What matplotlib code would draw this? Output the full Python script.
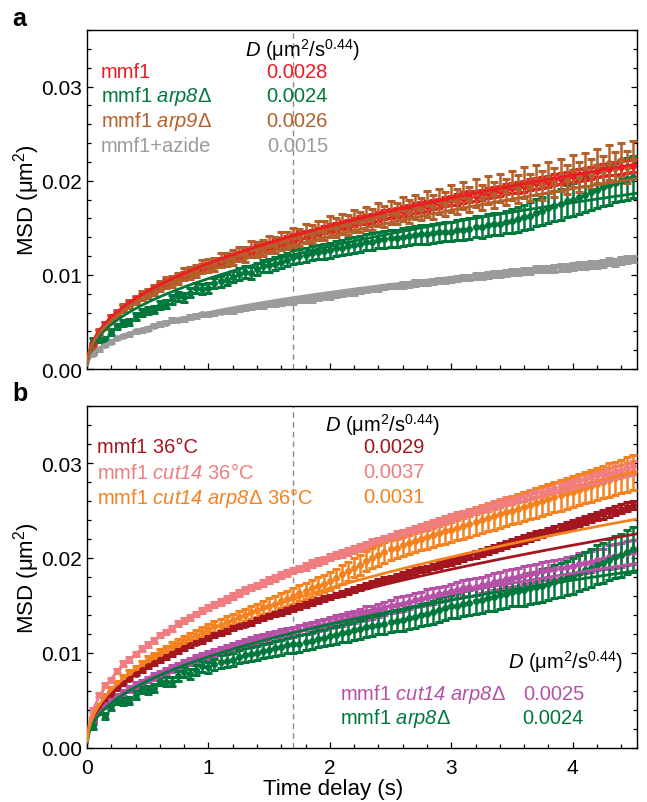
import numpy as np
import matplotlib.pyplot as plt
from matplotlib.ticker import MultipleLocator, FormatStrFormatter

plt.rcParams.update({
    'font.family': ['Liberation Sans', 'DejaVu Sans'],
    'mathtext.fontset': 'custom',
    'mathtext.rm': 'Liberation Sans',
    'mathtext.it': 'Liberation Sans:italic',
    'mathtext.sf': 'Liberation Sans:italic',
    'mathtext.bf': 'Liberation Sans:bold',
})

# ───────────── data (MSD in 1e-3 µm², one row = 0.5 s) ─────────────
lag = np.round(np.arange(1, 91) * 0.05, 2)      # time delay (s)
fit_alpha = 0.44
t_fit_max = 1.7                                  # dashed line

# panel a
msd_a_mmf1 = [
    2.6, 3.9, 4.8, 5.5, 6.0, 6.5, 7.0, 7.4, 7.7, 8.1,
    8.5, 8.8, 9.1, 9.4, 9.7, 10.0, 10.2, 10.5, 10.8, 11.0,
    11.2, 11.5, 11.7, 11.9, 12.1, 12.3, 12.6, 12.8, 13.0, 13.1,
    13.3, 13.5, 13.7, 13.9, 14.1, 14.3, 14.4, 14.6, 14.8, 15.0,
    15.1, 15.3, 15.4, 15.6, 15.8, 15.9, 16.0, 16.2, 16.4, 16.5,
    16.6, 16.8, 16.9, 17.1, 17.2, 17.3, 17.5, 17.6, 17.8, 17.9,
    18.0, 18.2, 18.3, 18.4, 18.5, 18.7, 18.8, 18.9, 19.1, 19.2,
    19.3, 19.4, 19.6, 19.7, 19.8, 19.9, 20.1, 20.2, 20.3, 20.5,
    20.6, 20.7, 20.8, 21.0, 21.1, 21.2, 21.3, 21.4, 21.5, 21.6]
err_a_mmf1 = [
    0.2, 0.2, 0.2, 0.2, 0.2, 0.25, 0.25, 0.25, 0.25, 0.25,
    0.3, 0.3, 0.3, 0.3, 0.3, 0.3, 0.3, 0.3, 0.3, 0.3,
    0.3, 0.3, 0.35, 0.35, 0.35, 0.35, 0.35, 0.35, 0.4, 0.4,
    0.4, 0.4, 0.4, 0.4, 0.4, 0.4, 0.4, 0.4, 0.4, 0.4,
    0.45, 0.45, 0.45, 0.45, 0.45, 0.45, 0.45, 0.45, 0.45, 0.45,
    0.5, 0.5, 0.5, 0.5, 0.5, 0.5, 0.5, 0.5, 0.5, 0.5,
    0.55, 0.55, 0.55, 0.55, 0.55, 0.55, 0.55, 0.55, 0.55, 0.55,
    0.6, 0.6, 0.6, 0.6, 0.6, 0.6, 0.6, 0.6, 0.6, 0.6,
    0.65, 0.65, 0.65, 0.65, 0.65, 0.65, 0.65, 0.65, 0.65, 0.65]

msd_a_arp8 = [
    3.0, 3.2, 3.1, 3.9, 4.5, 4.9, 5.0, 5.6, 6.0, 6.2,
    6.3, 6.8, 6.9, 7.4, 7.7, 7.6, 8.1, 8.6, 8.5, 8.6,
    9.1, 9.3, 9.5, 9.8, 10.1, 10.3, 10.2, 10.6, 10.9, 11.0,
    11.2, 11.4, 11.6, 11.9, 12.0, 12.1, 12.3, 12.4, 12.5, 12.6,
    12.8, 12.9, 13.1, 13.2, 13.3, 13.5, 13.5, 13.7, 13.8, 13.9,
    13.9, 14.0, 14.1, 14.2, 14.3, 14.3, 14.4, 14.5, 14.6, 14.6,
    14.8, 14.8, 14.9, 15.1, 15.1, 15.3, 15.4, 15.4, 15.6, 15.7,
    15.9, 16.1, 16.3, 16.6, 16.8, 17.1, 17.3, 17.5, 17.8, 18.0,
    18.3, 18.5, 18.8, 19.0, 19.3, 19.5, 19.8, 20.0, 20.2, 20.4]
err_a_arp8 = [
    0.3, 0.3, 0.3, 0.3, 0.3, 0.35, 0.35, 0.35, 0.35, 0.4,
    0.4, 0.4, 0.4, 0.45, 0.45, 0.45, 0.5, 0.5, 0.5, 0.5,
    0.55, 0.55, 0.55, 0.6, 0.6, 0.6, 0.6, 0.65, 0.65, 0.65,
    0.7, 0.7, 0.7, 0.7, 0.75, 0.75, 0.75, 0.75, 0.8, 0.8,
    0.8, 0.8, 0.85, 0.85, 0.85, 0.85, 0.9, 0.9, 0.9, 0.9,
    0.9, 0.95, 0.95, 0.95, 1.0, 1.0, 1.0, 1.0, 1.05, 1.05,
    1.05, 1.1, 1.1, 1.1, 1.15, 1.15, 1.2, 1.2, 1.2, 1.25,
    1.3, 1.35, 1.4, 1.45, 1.5, 1.55, 1.6, 1.65, 1.7, 1.75,
    1.8, 1.85, 1.9, 1.95, 2.0, 2.05, 2.1, 2.15, 2.2, 2.25]

msd_a_arp9 = [
    2.0, 3.9, 4.6, 5.3, 5.9, 6.5, 6.9, 7.3, 7.8, 8.0,
    8.4, 8.8, 9.2, 9.3, 9.6, 10.1, 10.2, 10.4, 10.9, 11.0,
    11.1, 11.6, 11.6, 11.8, 12.2, 12.2, 12.7, 12.7, 12.9, 13.2,
    13.2, 13.6, 13.6, 14.0, 14.0, 14.4, 14.3, 14.7, 14.7, 15.1,
    15.0, 15.4, 15.3, 15.7, 15.6, 16.0, 15.9, 16.4, 16.2, 16.6,
    16.5, 17.0, 16.7, 17.2, 17.0, 17.5, 17.2, 17.8, 17.5, 18.1,
    17.8, 18.4, 18.0, 18.7, 18.2, 19.0, 18.5, 19.2, 18.8, 19.5,
    19.1, 19.8, 19.3, 20.1, 19.5, 20.3, 19.8, 20.6, 20.1, 21.0,
    20.4, 21.2, 20.7, 21.6, 21.0, 21.9, 21.3, 22.2, 21.5, 22.3]
err_a_arp9 = [
    0.3, 0.35, 0.35, 0.4, 0.4, 0.4, 0.45, 0.45, 0.5, 0.5,
    0.5, 0.55, 0.55, 0.6, 0.6, 0.65, 0.6, 0.65, 0.7, 0.7,
    0.7, 0.75, 0.7, 0.8, 0.75, 0.8, 0.85, 0.8, 0.85, 0.9,
    0.85, 0.95, 0.9, 1.0, 0.9, 1.0, 0.95, 1.05, 1.0, 1.1,
    1.0, 1.1, 1.05, 1.15, 1.05, 1.2, 1.1, 1.2, 1.15, 1.25,
    1.15, 1.3, 1.2, 1.3, 1.2, 1.35, 1.25, 1.35, 1.3, 1.4,
    1.3, 1.45, 1.3, 1.45, 1.35, 1.5, 1.4, 1.5, 1.4, 1.55,
    1.45, 1.6, 1.45, 1.6, 1.5, 1.65, 1.5, 1.7, 1.55, 1.7,
    1.6, 1.75, 1.6, 1.8, 1.65, 1.85, 1.7, 1.85, 1.7, 1.9]

msd_a_azide = [
    1.6, 2.1, 2.6, 2.9, 3.3, 3.5, 3.7, 4.0, 4.1, 4.3,
    4.6, 4.8, 4.9, 5.2, 5.2, 5.3, 5.5, 5.6, 5.8, 5.8,
    5.9, 6.1, 6.2, 6.2, 6.4, 6.5, 6.6, 6.7, 6.7, 6.9,
    6.9, 7.0, 7.1, 7.1, 7.3, 7.4, 7.4, 7.6, 7.7, 7.7,
    7.9, 8.0, 8.1, 8.1, 8.3, 8.4, 8.5, 8.5, 8.7, 8.8,
    8.8, 8.9, 9.0, 9.1, 9.2, 9.2, 9.3, 9.4, 9.4, 9.5,
    9.6, 9.7, 9.7, 9.9, 9.9, 10.0, 10.1, 10.1, 10.2, 10.3,
    10.3, 10.4, 10.4, 10.6, 10.6, 10.6, 10.7, 10.8, 10.8, 10.9,
    11.0, 11.0, 11.1, 11.1, 11.2, 11.4, 11.3, 11.5, 11.6, 11.7]
err_a_azide = [
    0.15, 0.15, 0.15, 0.15, 0.15, 0.15, 0.15, 0.15, 0.15, 0.15,
    0.15, 0.2, 0.15, 0.2, 0.15, 0.2, 0.2, 0.2, 0.2, 0.2,
    0.2, 0.2, 0.2, 0.2, 0.2, 0.2, 0.2, 0.2, 0.2, 0.2,
    0.2, 0.25, 0.2, 0.25, 0.2, 0.25, 0.25, 0.25, 0.25, 0.25,
    0.25, 0.25, 0.25, 0.25, 0.25, 0.25, 0.25, 0.25, 0.25, 0.25,
    0.25, 0.3, 0.25, 0.3, 0.25, 0.3, 0.3, 0.3, 0.3, 0.3,
    0.3, 0.3, 0.3, 0.3, 0.3, 0.3, 0.3, 0.3, 0.3, 0.3,
    0.3, 0.35, 0.3, 0.35, 0.3, 0.35, 0.35, 0.35, 0.35, 0.35,
    0.35, 0.35, 0.35, 0.35, 0.35, 0.35, 0.35, 0.35, 0.35, 0.35]

# panel b
msd_b_mmf1 = [
    3.0, 4.1, 5.0, 5.7, 6.3, 6.8, 7.3, 7.8, 8.2, 8.6,
    8.9, 9.3, 9.6, 9.9, 10.2, 10.5, 10.8, 11.1, 11.3, 11.6,
    11.9, 12.1, 12.3, 12.6, 12.8, 13.0, 13.2, 13.5, 13.7, 13.9,
    14.1, 14.3, 14.5, 14.7, 14.9, 15.1, 15.3, 15.5, 15.7, 15.9,
    16.1, 16.3, 16.5, 16.7, 16.9, 17.1, 17.3, 17.5, 17.7, 17.9,
    18.0, 18.2, 18.4, 18.6, 18.8, 18.9, 19.1, 19.3, 19.5, 19.6,
    19.8, 20.0, 20.2, 20.4, 20.6, 20.8, 21.0, 21.2, 21.4, 21.6,
    21.8, 22.0, 22.2, 22.4, 22.6, 22.8, 23.0, 23.2, 23.4, 23.6,
    23.8, 24.0, 24.2, 24.4, 24.6, 24.8, 25.0, 25.2, 25.4, 25.6]
err_b_mmf1 = (
    [0.15] * 10 + [0.2] * 10 + [0.2] * 10 + [0.25] * 10 + [0.25] * 10
    + [0.3] * 10 + [0.35] * 10 + [0.4] * 10 + [0.45] * 10)

msd_b_cut14 = [
    4.0, 5.6, 6.6, 7.2, 8.1, 8.9, 9.3, 9.9, 10.5, 10.9,
    11.3, 11.9, 12.2, 12.6, 13.1, 13.4, 13.7, 14.1, 14.5, 14.8,
    15.1, 15.4, 15.7, 16.0, 16.3, 16.6, 16.9, 17.1, 17.4, 17.7,
    17.9, 18.2, 18.4, 18.7, 18.9, 19.1, 19.4, 19.6, 19.8, 20.1,
    20.3, 20.5, 20.7, 20.9, 21.1, 21.3, 21.6, 21.8, 22.0, 22.2,
    22.4, 22.6, 22.8, 23.0, 23.2, 23.4, 23.6, 23.8, 24.0, 24.2,
    24.4, 24.6, 24.8, 25.0, 25.2, 25.4, 25.6, 25.8, 26.0, 26.1,
    26.3, 26.5, 26.7, 26.9, 27.0, 27.2, 27.4, 27.6, 27.8, 28.0,
    28.2, 28.3, 28.5, 28.7, 28.8, 29.0, 29.2, 29.3, 29.5, 29.7]
err_b_cut14 = (
    [0.2] * 5 + [0.25] * 5 + [0.25] * 10 + [0.3] * 10 + [0.3] * 5 + [0.35] * 5
    + [0.35] * 10 + [0.4] * 10 + [0.4] * 10 + [0.45] * 10 + [0.5] * 10)

msd_b_cut14_arp8 = [
    3.2, 4.4, 5.4, 6.2, 6.8, 7.4, 7.9, 8.3, 8.8, 9.3,
    9.6, 10.0, 10.3, 10.7, 11.0, 11.3, 11.6, 11.9, 12.2, 12.5,
    12.8, 13.0, 13.3, 13.5, 13.8, 14.0, 14.3, 14.5, 14.8, 15.0,
    15.2, 15.5, 15.7, 16.0, 16.3, 16.5, 16.8, 17.1, 17.3, 17.6,
    17.9, 18.3, 18.6, 19.0, 19.3, 19.7, 20.0, 20.3, 20.6, 20.9,
    21.1, 21.4, 21.6, 21.8, 22.0, 22.2, 22.4, 22.6, 22.8, 23.0,
    23.2, 23.4, 23.6, 23.8, 24.0, 24.2, 24.4, 24.6, 24.8, 25.0,
    25.2, 25.4, 25.6, 25.8, 26.0, 26.2, 26.4, 26.6, 26.8, 27.0,
    27.2, 27.4, 27.6, 27.8, 28.0, 28.2, 28.4, 28.6, 28.8, 29.0]
err_b_cut14_arp8 = [
    0.2, 0.2, 0.25, 0.25, 0.3, 0.3, 0.3, 0.35, 0.35, 0.35,
    0.4, 0.4, 0.4, 0.45, 0.45, 0.45, 0.5, 0.5, 0.5, 0.55,
    0.55, 0.6, 0.6, 0.6, 0.65, 0.65, 0.7, 0.7, 0.7, 0.75,
    0.75, 0.8, 0.8, 0.8, 0.85, 0.85, 0.9, 0.9, 0.9, 0.95,
    0.95, 1.0, 1.0, 1.0, 1.05, 1.05, 1.1, 1.1, 1.1, 1.15,
    1.15, 1.15, 1.2, 1.2, 1.2, 1.25, 1.25, 1.25, 1.3, 1.3,
    1.3, 1.35, 1.35, 1.35, 1.4, 1.4, 1.4, 1.45, 1.45, 1.45,
    1.5, 1.5, 1.5, 1.55, 1.55, 1.55, 1.6, 1.6, 1.6, 1.65,
    1.65, 1.65, 1.7, 1.7, 1.7, 1.75, 1.75, 1.75, 1.8, 1.8]

msd_b_cut14_arp8_25 = [
    2.8, 3.9, 4.5, 5.0, 5.4, 5.8, 6.2, 6.6, 6.9, 7.2,
    7.5, 7.8, 8.1, 8.4, 8.6, 8.9, 9.1, 9.4, 9.6, 9.8,
    10.0, 10.2, 10.4, 10.6, 10.8, 11.0, 11.2, 11.4, 11.5, 11.7,
    11.8, 12.0, 12.1, 12.2, 12.4, 12.6, 12.7, 12.9, 13.0, 13.2,
    13.4, 13.5, 13.7, 13.8, 14.0, 14.2, 14.3, 14.5, 14.7, 14.9,
    15.1, 15.2, 15.4, 15.6, 15.7, 15.9, 16.0, 16.2, 16.3, 16.5,
    16.6, 16.8, 16.9, 17.0, 17.2, 17.3, 17.5, 17.6, 17.8, 17.9,
    18.0, 18.2, 18.3, 18.4, 18.6, 18.7, 18.8, 18.9, 19.1, 19.2,
    19.4, 19.5, 19.6, 19.8, 19.9, 20.1, 20.2, 20.3, 20.5, 20.6]
err_b_cut14_arp8_25 = (
    [0.25] * 5 + [0.3] * 5 + [0.35] * 5 + [0.4] * 5 + [0.45] * 5 + [0.5] * 5
    + [0.55] * 5 + [0.6] * 5 + [0.65] * 5 + [0.7] * 5 + [0.75] * 5 + [0.8] * 5
    + [0.85] * 5 + [0.9] * 5 + [0.95] * 5 + [1.0] * 5 + [1.1] * 5 + [1.25] * 5)

msd_b_arp8 = [
    2.3, 3.9, 3.4, 4.4, 5.0, 4.9, 5.0, 5.6, 6.2, 6.1,
    6.3, 7.1, 7.0, 7.0, 7.6, 8.0, 7.8, 8.2, 8.6, 8.5,
    8.8, 9.1, 9.2, 9.3, 9.6, 9.8, 9.9, 10.0, 10.2, 10.3,
    10.5, 10.6, 10.8, 10.9, 11.0, 11.2, 11.3, 11.5, 11.6, 11.8,
    11.9, 12.1, 12.2, 12.4, 12.5, 12.7, 12.8, 13.0, 13.1, 13.3,
    13.4, 13.5, 13.7, 13.8, 14.0, 14.1, 14.3, 14.5, 14.7, 14.9,
    15.0, 15.2, 15.3, 15.5, 15.6, 15.8, 15.9, 16.1, 16.2, 16.4,
    16.5, 16.6, 16.8, 16.9, 17.1, 17.3, 17.5, 17.7, 17.9, 18.1,
    18.4, 18.7, 19.0, 19.3, 19.5, 19.8, 20.1, 20.3, 20.6, 20.9]
err_b_arp8 = [
    0.3, 0.3, 0.3, 0.35, 0.35, 0.35, 0.4, 0.4, 0.4, 0.45,
    0.45, 0.45, 0.5, 0.5, 0.5, 0.55, 0.55, 0.55, 0.6, 0.6,
    0.6, 0.65, 0.65, 0.65, 0.7, 0.7, 0.7, 0.75, 0.75, 0.75,
    0.8, 0.8, 0.8, 0.85, 0.85, 0.85, 0.9, 0.9, 0.9, 0.95,
    0.95, 0.95, 1.0, 1.0, 1.0, 1.05, 1.05, 1.05, 1.1, 1.1,
    1.1, 1.15, 1.15, 1.15, 1.2, 1.2, 1.2, 1.25, 1.25, 1.25,
    1.3, 1.3, 1.35, 1.35, 1.4, 1.4, 1.45, 1.45, 1.5, 1.5,
    1.55, 1.6, 1.6, 1.65, 1.7, 1.7, 1.75, 1.8, 1.8, 1.85,
    1.9, 1.95, 2.0, 2.05, 2.1, 2.15, 2.2, 2.25, 2.3, 2.35]

# fitted D (µm²/s^0.44), as printed on the chart
D_a = {'mmf1': 0.0028, 'arp8': 0.0024, 'arp9': 0.0026, 'azide': 0.0015}
D_b = {'mmf1': 0.0029, 'cut14': 0.0037, 'cut14_arp8': 0.0031,
       'cut14_arp8_25': 0.0025, 'arp8': 0.0024}

RED = '#EC1C24'
GREEN = '#00783C'
BROWN = '#B4602A'
GRAY = '#9B9B9B'
DKRED = '#A3161F'
PINK = '#F07E80'
ORANGE = '#F58220'
MAGENTA = '#B651A6'

W, H = 647, 803
fig = plt.figure(figsize=(W / 100, H / 100), dpi=100)
ax_a = fig.add_axes([87 / W, 1 - 370 / H, 550 / W, 339 / H])
ax_b = fig.add_axes([87 / W, 1 - 749 / H, 550 / W, 342 / H])

tt = np.linspace(0.001, 4.6, 300)


def series(ax, y, e, c):
    ax.errorbar(lag, np.array(y) * 1e-3, yerr=np.array(e) * 1e-3, fmt='o',
                ms=4.0, color=c, ecolor=c, elinewidth=1.8,
                capsize=3.0, capthick=2.2, zorder=3)


def fit(ax, D, c):
    ax.plot(tt, 4 * D * tt ** fit_alpha, color=c, lw=2.0, zorder=4,
            solid_capstyle='butt')


series(ax_a, msd_a_azide, err_a_azide, GRAY)
series(ax_a, msd_a_arp8, err_a_arp8, GREEN)
series(ax_a, msd_a_mmf1, err_a_mmf1, RED)
series(ax_a, msd_a_arp9, err_a_arp9, BROWN)
fit(ax_a, D_a['azide'], GRAY)
fit(ax_a, D_a['arp8'], GREEN)
fit(ax_a, D_a['mmf1'], RED)
fit(ax_a, D_a['arp9'], BROWN)

series(ax_b, msd_b_cut14, err_b_cut14, PINK)
series(ax_b, msd_b_cut14_arp8, err_b_cut14_arp8, ORANGE)
series(ax_b, msd_b_mmf1, err_b_mmf1, DKRED)
series(ax_b, msd_b_cut14_arp8_25, err_b_cut14_arp8_25, MAGENTA)
series(ax_b, msd_b_arp8, err_b_arp8, GREEN)
fit(ax_b, D_b['cut14'], PINK)
fit(ax_b, D_b['mmf1'], DKRED)
fit(ax_b, D_b['cut14_arp8_25'], MAGENTA)
fit(ax_b, D_b['arp8'], GREEN)
fit(ax_b, D_b['cut14_arp8'], ORANGE)

for ax in (ax_a, ax_b):
    ax.axvline(t_fit_max, color='#8C8C8C', lw=1.0, ls=(0, (4, 3)), zorder=1)
    ax.set_xlim(0, 4.53)
    ax.set_ylim(0, 0.036)
    ax.xaxis.set_major_locator(MultipleLocator(1))
    ax.xaxis.set_minor_locator(MultipleLocator(0.2))
    ax.yaxis.set_major_locator(MultipleLocator(0.01))
    ax.yaxis.set_minor_locator(MultipleLocator(0.002))
    ax.yaxis.set_major_formatter(FormatStrFormatter('%.2f'))
    ax.tick_params(which='both', direction='in', right=True, top=False,
                   width=0.9, labelsize=15, pad=3.5)
    ax.tick_params(which='major', length=4.5)
    ax.tick_params(which='minor', length=2.6)
    ax.tick_params(axis='x', pad=7)
    for s in ax.spines.values():
        s.set_linewidth(1.0)
    ax.set_ylabel('MSD (μm$^2$)', fontsize=16)
    ax.yaxis.set_label_coords(-0.082, 0.5)

ax_a.tick_params(axis='x', labelbottom=False)
ax_b.set_xlabel('Time delay (s)', fontsize=16)
ax_b.xaxis.set_label_coords(0.447, -0.088)


def ftext(x, y, s, ha='left', **kw):
    fig.text(x / W, 1 - y / H, s, ha=ha, va='center', fontsize=14.5, **kw)


header = r'$\mathit{D}$ (μm$^2$/s$^{0.44}$)'

fig.text(12 / W, 1 - 19 / H, 'a', fontsize=18, fontweight='bold', va='center')
fig.text(12 / W, 1 - 394 / H, 'b', fontsize=18, fontweight='bold', va='center')

# panel a legend
ftext(245, 50, header, color='black')
rows_a = [('mmf1', '0.0028', RED),
          (r'mmf1 $\mathsf{arp8}$Δ', '0.0024', GREEN),
          (r'mmf1 $\mathsf{arp9}$Δ', '0.0026', BROWN),
          ('mmf1+azide', '0.0015', GRAY)]
for i, (lab, val, c) in enumerate(rows_a):
    y = 72 + 25 * i
    ftext(101, y, lab, color=c)
    ftext(328, y, val, ha='right', color=c)

# panel b legends
ftext(325, 425, header, color='black')
rows_b = [('mmf1 36°C', '0.0029', DKRED),
          (r'mmf1 $\mathsf{cut14}$ 36°C', '0.0037', PINK),
          (r'mmf1 $\mathsf{cut14}$ $\mathsf{arp8}$Δ 36°C', '0.0031', ORANGE)]
for i, (lab, val, c) in enumerate(rows_b):
    y = 448 + 25 * i
    ftext(97, y, lab, color=c)
    ftext(425, y, val, ha='right', color=c)

ftext(508, 662, header, color='black')
rows_b2 = [(r'mmf1 $\mathsf{cut14}$ $\mathsf{arp8}$Δ', '0.0025', MAGENTA),
           (r'mmf1 $\mathsf{arp8}$Δ', '0.0024', GREEN)]
for i, (lab, val, c) in enumerate(rows_b2):
    y = 695 + 23.5 * i
    ftext(340, y, lab, color=c)
    ftext(584, y, val, ha='right', color=c)

fig.savefig('out.png', dpi=100)
